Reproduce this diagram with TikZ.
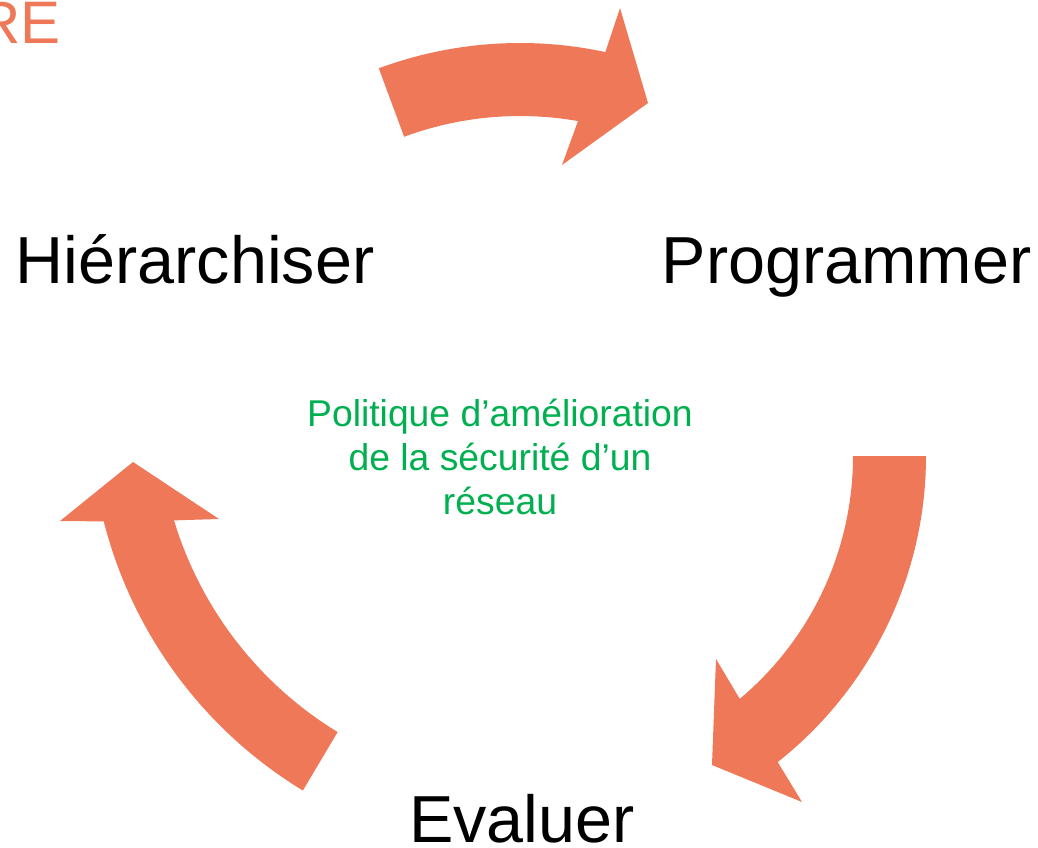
\documentclass[tikz,border=0pt]{standalone}
\usepackage{fontspec}
\setmainfont{Liberation Sans}
\usetikzlibrary{calc}
\definecolor{arr}{RGB}{239,120,89}
\definecolor{grn}{RGB}{0,176,80}
\begin{document}
\begin{tikzpicture}[x=1pt,y=-1pt,
  cyclearrow/.style={fill=arr, draw=none},
  lbl/.style={inner sep=0pt, font=\fontsize{66.5}{80}\selectfont},
  note/.style={inner sep=0pt, text=grn, align=center, font=\fontsize{37.3}{44}\selectfont}]
\useasboundingbox (0,0) rectangle (1038,848);
\coordinate (c1) at (520,450);
\coordinate (c2) at (536,456);
\coordinate (c3) at (533,412);
% top arrow
\fill[cyclearrow] ($(c1)+(-110.3:407)$) arc[start angle=-110.3, end angle=-77.9, radius=407]
  -- (620,8) -- (648,103) -- (562,165)
  -- ($(c1)+(-80:334)$) arc[start angle=-80, end angle=-110.3, radius=334] -- cycle;
% right arrow
\fill[cyclearrow] ($(c2)+(0:390)$) arc[start angle=0, end angle=51.7, radius=390]
  -- (802,802) -- (712,765) -- (716,659)
  -- ($(c2)+(50:317)$) arc[start angle=50, end angle=0, radius=317] -- cycle;
% left arrow
\fill[cyclearrow] ($(c3)+(121.4:375)$) arc[start angle=121.4, end angle=163.2, radius=375]
  -- (219,519) -- (133,462) -- (60,521)
  -- ($(c3)+(165.7:443)$) arc[start angle=165.7, end angle=121.3, radius=443] -- cycle;
\node[lbl, anchor=base] (h) at (195,283) {Hiérarchiser};
\node[lbl, anchor=base] (p) at (846.5,283) {Programmer};
\node[lbl, anchor=base] (e) at (522,842) {Evaluer};
\node[note] (pol) at (500,457) {Politique d’amélioration\\de la sécurité d’un\\réseau};
\node[inner sep=0pt, text=arr, font=\fontsize{60}{60}\selectfont, anchor=base east] (re) at (61,44) {RE};
\end{tikzpicture}
\end{document}
